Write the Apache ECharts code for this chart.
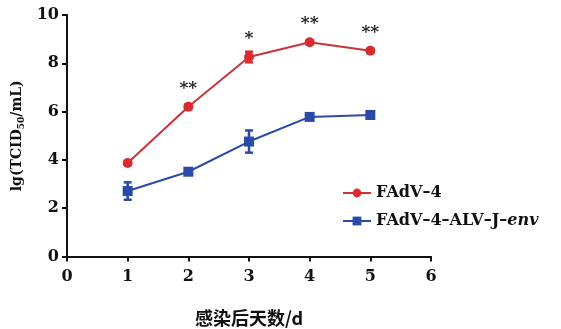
<!DOCTYPE html>
<html><head><meta charset="utf-8">
<script src="https://cdn.jsdelivr.net/npm/echarts@6/dist/echarts.min.js"></script>
<style>html,body{margin:0;padding:0;background:#fff}#c{width:561px;height:329px}</style>
</head><body><div id="c"></div>
<script>
var days = [1, 2, 3, 4, 5];
var xTicks = [0, 1, 2, 3, 4, 5, 6];
var yTicks = [0, 2, 4, 6, 8, 10];
var fadv4 = [3.87, 6.2, 8.26, 8.87, 8.52];
var fadv4Err = [0.08, 0.1, 0.22, 0.08, 0.08];
var fadvEnv = [2.71, 3.51, 4.76, 5.78, 5.86];
var fadvEnvErr = [0.36, 0.1, 0.46, 0.1, 0.1];
var sig = ['', '**', '*', '**', '**'];
var seriesNames = ['FAdV\u20134', 'FAdV\u20134\u2013ALV\u2013J\u2013env'];

var RED = '#d92b30', REDLINE = '#c9343a', BLUE = '#2a4aa8';
var FONT = 'DejaVu Serif';

function pairs(vals) { return days.map(function (d, i) { return [d, vals[i]]; }); }
function errData(vals, errs) { return days.map(function (d, i) { return [d, vals[i] - errs[i], vals[i] + errs[i]]; }); }
function errRender(color) {
  return function (params, api) {
    var lo = api.coord([api.value(0), api.value(1)]);
    var hi = api.coord([api.value(0), api.value(2)]);
    var w = 4;
    var st = { stroke: color, lineWidth: 2.5 };
    return { type: 'group', children: [
      { type: 'line', shape: { x1: lo[0], y1: lo[1], x2: hi[0], y2: hi[1] }, style: st },
      { type: 'line', shape: { x1: lo[0] - w, y1: lo[1], x2: lo[0] + w, y2: lo[1] }, style: st },
      { type: 'line', shape: { x1: hi[0] - w, y1: hi[1], x2: hi[0] + w, y2: hi[1] }, style: st }
    ]};
  };
}

var chart = echarts.init(document.getElementById('c'));
chart.setOption({
  animation: false,
  backgroundColor: '#fff',
  grid: { left: 67, right: 130, top: 15, bottom: 72.5, containLabel: false, outerBoundsMode: 'none' },
  legend: {
    orient: 'vertical', left: 337, top: 180, itemGap: 12,
    itemWidth: 28, itemHeight: 11,
    data: seriesNames,
    textStyle: { fontFamily: FONT, fontWeight: 'bold', fontSize: 16, color: '#111',
      rich: { i: { fontFamily: FONT, fontWeight: 'bold', fontStyle: 'italic', fontSize: 16, color: '#111' } } },
    formatter: function (n) { return n.replace(/env$/, '{i|env}'); }
  },
  xAxis: {
    type: 'value', min: 0, max: 6, interval: 1,
    name: '感染后天数/d', nameLocation: 'middle', nameGap: 53,
    nameTextStyle: { fontFamily: 'Noto Sans CJK SC', fontWeight: 'bold', fontSize: 18, color: '#111' },
    axisLine: { lineStyle: { color: '#111', width: 2 } },
    axisTick: { inside: false, length: 5, lineStyle: { color: '#111', width: 2 } },
    axisLabel: { margin: 12, fontFamily: FONT, fontWeight: 'bold', fontSize: 16, color: '#111',
      formatter: function (v) { return xTicks.indexOf(v) >= 0 ? String(v) : ''; } },
    splitLine: { show: false }
  },
  yAxis: {
    type: 'value', min: 0, max: 10, interval: 2,
    name: 'lg(TCID{s|50}/mL)', nameLocation: 'middle', nameGap: 40,
    nameTextStyle: { fontFamily: FONT, fontWeight: 'bold', fontSize: 14, color: '#111',
      rich: { s: { fontFamily: FONT, fontWeight: 'bold', fontSize: 9, verticalAlign: 'bottom', padding: [8, 0, 0, 0], color: '#111' } } },
    axisLine: { show: true, lineStyle: { color: '#111', width: 2 } },
    axisTick: { show: true, inside: false, length: 5, lineStyle: { color: '#111', width: 2 } },
    axisLabel: { margin: 8, fontFamily: FONT, fontWeight: 'bold', fontSize: 16, color: '#111',
      formatter: function (v) { return yTicks.indexOf(v) >= 0 ? String(v) : ''; } },
    splitLine: { show: false }
  },
  series: [
    { name: seriesNames[0], type: 'line', data: pairs(fadv4), symbol: 'circle', symbolSize: 10,
      lineStyle: { color: REDLINE, width: 2 }, itemStyle: { color: RED },
      label: { show: true, position: 'top', distance: 5, fontFamily: FONT, fontWeight: 'bold', fontSize: 17, color: '#222',
        formatter: function (p) { return sig[p.dataIndex]; } }, z: 3 },
    { name: seriesNames[1], type: 'line', data: pairs(fadvEnv), symbol: 'rect', symbolSize: 10,
      lineStyle: { color: BLUE, width: 2 }, itemStyle: { color: BLUE }, z: 3 },
    { type: 'custom', renderItem: errRender(RED), data: errData(fadv4, fadv4Err), encode: { x: 0, y: [1, 2] }, z: 4, silent: true },
    { type: 'custom', renderItem: errRender(BLUE), data: errData(fadvEnv, fadvEnvErr), encode: { x: 0, y: [1, 2] }, z: 4, silent: true }
  ]
});
</script></body></html>
